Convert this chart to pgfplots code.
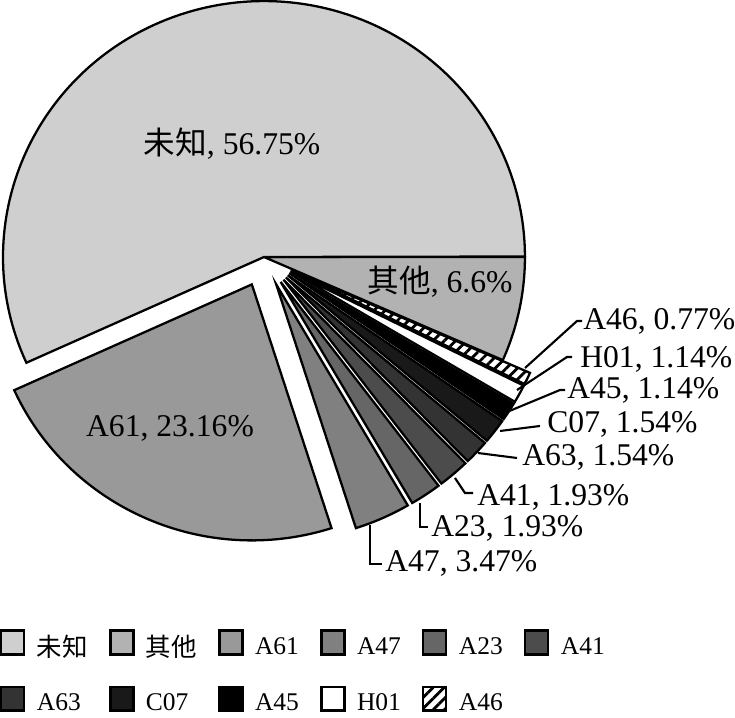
\documentclass[border=0pt]{standalone}
\usepackage{pgfplots}
\pgfplotsset{compat=1.18}
\usepackage{fontspec}
\setmainfont{Liberation Serif}
\newfontfamily\cjk{Noto Sans CJK SC}
\usetikzlibrary{patterns.meta}

\definecolor{cWZ}{gray}{0.81}
\definecolor{cQT}{gray}{0.70}
\definecolor{cA61}{gray}{0.60}
\definecolor{cA47}{gray}{0.50}
\definecolor{cA23}{gray}{0.40}
\definecolor{cA41}{gray}{0.30}
\definecolor{cA63}{gray}{0.20}
\definecolor{cC07}{gray}{0.10}
\tikzset{hatch/.style={pattern={Lines[angle=45,distance=4.5pt,line width=1.6pt]}}}

\newcommand\labfont{\fontsize{18}{20}\selectfont}
\newcommand\legfont{\fontsize{14.5}{16}\selectfont}
\def\Rx{5.22cm}
\def\Ry{5.12cm}

\begin{document}
\begin{tikzpicture}
\begin{axis}[
  hide axis, x=0.02cm, y=0.02cm,
  xmin=0, xmax=735, ymin=0, ymax=718,
  enlargelimits=false, clip=false,
  legend columns=6, legend cell align=left,
  legend image code/.code={\draw[#1, line width=1.2pt] (0cm,-0.14cm) rectangle (0.46cm,0.34cm);},
  legend style={draw=none, fill=none, inner sep=0pt,
    at={(0.0,0.006)}, anchor=south west,
    row sep=0.52cm,
    nodes={inner sep=0pt, font=\legfont},
    /tikz/every odd column/.append style={column sep=0.23cm},
    /tikz/every even column/.append style={column sep=0.43cm}},
]
\coordinate (bl) at (axis cs:0,0);
\coordinate (tr) at (axis cs:735,718);

% slices clockwise from 0 deg: percent / explode (px) / style
\pgfplotsextra{%
  \gdef\cum{0}%
  \foreach \p/\e/\st in {6.6/0/{fill=cQT}, 0.77/30/{hatch}, 1.14/30/{fill=white},
      1.14/30/{fill=black}, 1.54/30/{fill=cC07}, 1.54/30/{fill=cA63},
      1.93/30/{fill=cA41}, 1.93/30/{fill=cA23}, 3.47/30/{fill=cA47},
      23.16/30/{fill=cA61}, 56.75/0/{fill=cWZ}}{%
    \pgfmathsetmacro\a{\cum}%
    \pgfmathsetmacro\b{\cum-3.6*\p}%
    \pgfmathsetmacro\m{(\a+\b)/2}%
    \expandafter\filldraw\expandafter[\st, draw=black, line width=1.3pt]
      (axis cs:264,461) ++({\e*cos(\m)*0.02cm},{\e*sin(\m)*0.02cm})
      -- ++({\Rx*cos(\a)},{\Ry*sin(\a)})
      arc[start angle=\a, end angle=\b, x radius=\Rx, y radius=\Ry] -- cycle;
    \xdef\cum{\b}%
  }%
}

% labels inside
\node[anchor=base, font=\labfont] at (axis cs:232,563) {{\cjk 未知}, 56.75\%};
\node[anchor=base, font=\labfont] at (axis cs:440,425) {{\cjk 其他}, 6.6\%};
\node[anchor=base, font=\labfont] at (axis cs:170,281) {A61, 23.16\%};

% leader lines
\begin{scope}[line width=1.2pt]
\draw (axis cs:525,350) -- (axis cs:577,397) -- (axis cs:582,397);
\draw (axis cs:517,328) -- (axis cs:567,361) -- (axis cs:572,361);
\draw (axis cs:507,306) -- (axis cs:560,328) -- (axis cs:565,328);
\draw (axis cs:500,287) -- (axis cs:540,292);
\draw (axis cs:478,265) -- (axis cs:517,260);
\draw (axis cs:455,240) -- (axis cs:465,225) -- (axis cs:473,225);
\draw (axis cs:420,215) -- (axis cs:420,191) -- (axis cs:428,191);
\draw (axis cs:370,193) -- (axis cs:370,154) -- (axis cs:382,154);
\end{scope}

% labels outside
\node[anchor=base west, inner sep=0pt, font=\labfont] at (axis cs:583,388) {A46, 0.77\%};
\node[anchor=base west, inner sep=0pt, font=\labfont] at (axis cs:580,350) {H01, 1.14\%};
\node[anchor=base west, inner sep=0pt, font=\labfont] at (axis cs:567,319) {A45, 1.14\%};
\node[anchor=base west, inner sep=0pt, font=\labfont] at (axis cs:547,285) {C07, 1.54\%};
\node[anchor=base west, inner sep=0pt, font=\labfont] at (axis cs:522,252) {A63, 1.54\%};
\node[anchor=base west, inner sep=0pt, font=\labfont] at (axis cs:477,212) {A41, 1.93\%};
\node[anchor=base west, inner sep=0pt, font=\labfont] at (axis cs:431,181) {A23, 1.93\%};
\node[anchor=base west, inner sep=0pt, font=\labfont] at (axis cs:385,146) {A47, 3.47\%};

\addlegendimage{fill=cWZ}
\addlegendimage{fill=cQT}
\addlegendimage{fill=cA61}
\addlegendimage{fill=cA47}
\addlegendimage{fill=cA23}
\addlegendimage{fill=cA41}
\addlegendimage{fill=cA63}
\addlegendimage{fill=cC07}
\addlegendimage{fill=black}
\addlegendimage{fill=white}
\addlegendimage{hatch}
\legend{{\cjk 未知}, {\cjk 其他}, A61, A47, A23, A41, A63, C07, A45, H01, A46}
\end{axis}
\pgfresetboundingbox
\useasboundingbox (bl) rectangle (tr);
\end{tikzpicture}
\end{document}
